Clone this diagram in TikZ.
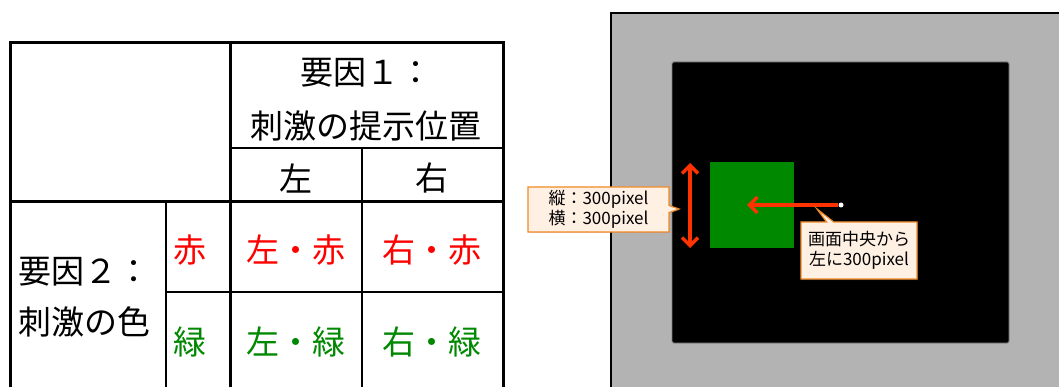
\documentclass[tikz,border=0pt]{standalone}
\usepackage{fontspec}
\setmainfont{Noto Sans CJK JP}
\usetikzlibrary{arrows.meta,shapes.callouts,shadows}
\definecolor{jred}{HTML}{FF0000}
\definecolor{jgreen}{HTML}{008800}
\definecolor{scrgray}{HTML}{B3B3B3}
\definecolor{arrred}{HTML}{FF3300}
\definecolor{callfill}{HTML}{FFF0E4}
\definecolor{callline}{HTML}{F08A24}
\tikzset{
  thick line/.style={line width=3pt},
  thin line/.style={line width=1.2pt},
  big/.style={font=\fontsize{33}{40}\selectfont, inner sep=0pt},
  redarrow/.style={draw=arrred, line width=3.5pt, -{Straight Barb[length=8pt,width=16pt,line width=3.5pt]}},
  call/.style={rectangle callout, draw=callline, fill=callfill, line width=1.2pt, align=center, font=\fontsize{17}{20}\selectfont, inner sep=0pt, drop shadow={shadow xshift=1pt, shadow yshift=-1pt, opacity=0.25}}
}
\begin{document}
\begin{tikzpicture}[x=1pt,y=-1pt]
\useasboundingbox (0,0) rectangle (1059,387);
% ---------- table ----------
\draw[thin line] (230,148) -- (503,148);
\draw[thin line] (362,148) -- (362,387);
\draw[thin line] (166,202) -- (166,387);
\draw[thin line] (166,292) -- (503,292);
\draw[thick line] (10,387) -- (10,43) -- (503,43) -- (503,387);
\draw[thick line] (230,43) -- (230,387);
\draw[thick line] (10,202) -- (503,202);
\node[big] (f1a) at (366,73) {要因１：};
\node[big] (f1b) at (366,126) {刺激の提示位置};
\node[big] (hl) at (296,178) {左};
\node[big] (hr) at (432,178) {右};
\node[big, anchor=west] (f2a) at (18,272) {要因２：};
\node[big, anchor=west] (f2b) at (18,322) {刺激の色};
\node[big, text=jred] (rr) at (190,250) {赤};
\node[big, text=jgreen] (rg) at (190,342) {緑};
\node[big, text=jred] (c11) at (296,250) {左・赤};
\node[big, text=jred] (c12) at (432,250) {右・赤};
\node[big, text=jgreen] (c21) at (296,342) {左・緑};
\node[big, text=jgreen] (c22) at (432,342) {右・緑};
% ---------- screen ----------
\fill[scrgray] (611,13) rectangle (1062,390);
\draw[line width=2pt] (611,390) -- (611,13) -- (1062,13);
\draw[fill=black, draw=gray, line width=0.8pt, rounded corners=1.5pt] (672,62) rectangle (1009,343);
\fill[jgreen] (710,162) rectangle (794,248);
\node[circle, fill=white, inner sep=0pt, minimum size=5pt] (ctr) at (841,205) {};
\coordinate (tgt) at (747,205);
\draw[redarrow] (ctr.west) -- (tgt);
\coordinate (vt) at (690,163);
\coordinate (vb) at (690,248);
\draw[draw=arrred, line width=3.5pt, {Straight Barb[length=8pt,width=16pt,line width=3.5pt]}-{Straight Barb[length=8pt,width=16pt,line width=3.5pt]}] (vt) -- (vb);
\node[call, minimum width=141pt, minimum height=45pt, callout absolute pointer={(679,209)}] (cs) at (598.5,209.5) {縦：300pixel\\横：300pixel};
\node[call, minimum width=116pt, minimum height=57pt, callout absolute pointer={(817,209)}] (cp) at (859,250.5) {画面中央から\\左に300pixel};
\end{tikzpicture}
\end{document}
